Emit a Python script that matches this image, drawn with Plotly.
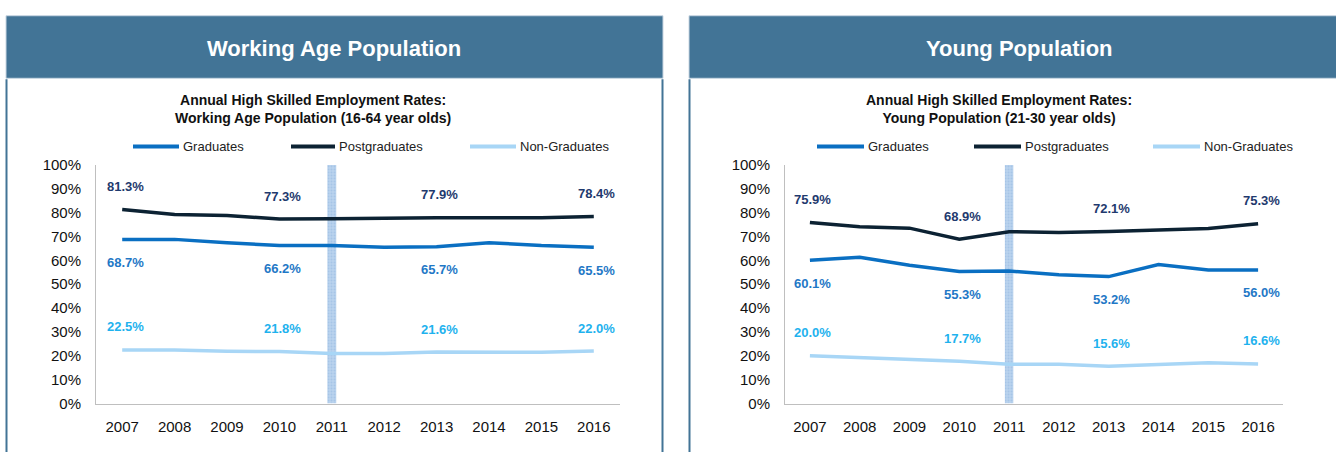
import plotly.graph_objects as go

W, H = 1336, 452

years = ["2007", "2008", "2009", "2010", "2011", "2012", "2013", "2014", "2015", "2016"]
label_years = ["2007", "2010", "2013", "2016"]
highlight_year = "2011"

wa_grad = [68.7, 68.8, 67.4, 66.2, 66.2, 65.5, 65.7, 67.4, 66.2, 65.5]
wa_post = [81.3, 79.2, 78.8, 77.3, 77.4, 77.8, 77.9, 77.9, 77.9, 78.4]
wa_non = [22.5, 22.4, 21.9, 21.8, 21.0, 21.0, 21.6, 21.6, 21.5, 22.0]

yp_grad = [60.1, 61.3, 58.0, 55.3, 55.5, 54.0, 53.2, 58.3, 56.0, 56.0]
yp_post = [75.9, 74.1, 73.5, 68.9, 72.0, 71.7, 72.1, 72.8, 73.4, 75.3]
yp_non = [20.0, 19.2, 18.6, 17.7, 16.5, 16.5, 15.6, 16.5, 17.1, 16.6]

series_names = ["Graduates", "Postgraduates", "Non-Graduates"]
line_colors = ["#0A6FC2", "#0C2233", "#A8D6F6"]
label_colors = ["#1F78C6", "#1F3A6E", "#1FB2EE"]
label_shift = [-23, 23, 23]

header_titles = ["Working Age Population", "Young Population"]
chart_titles = [
    "Annual High Skilled Employment Rates:<br>Working Age Population (16-64 year olds)",
    "Annual High Skilled Employment Rates:<br>Young Population (21-30 year olds)",
]

FONT = "Liberation Sans, Arial, sans-serif"
HEADER = "#427496"


def px(x):
    return x / W


def py(y):
    return 1 - y / H


fig = go.Figure()

panels = [
    dict(data=[wa_grad, wa_post, wa_non], xa="x", ya="y",
         panel=(6, 663), head_cx=334, title_cx=313,
         leg=[(133, 179), (291, 335), (470, 516)]),
    dict(data=[yp_grad, yp_post, yp_non], xa="x2", ya="y2",
         panel=(689, 1345), head_cx=1019, title_cx=999,
         leg=[(817, 864), (974, 1021), (1153, 1200)]),
]

shapes = []
annotations = []

for i, p in enumerate(panels):
    x0, x1 = p["panel"]
    # header band
    shapes.append(dict(type="rect", xref="paper", yref="paper",
                       x0=px(x0), x1=px(x1), y0=py(72), y1=py(7),
                       fillcolor=HEADER, line=dict(color="#C9D6E2", width=1), layer="below"))
    # panel side borders
    for bx in (x0 + 0.5, x1 - 0.5):
        shapes.append(dict(type="line", xref="paper", yref="paper",
                           x0=px(bx), x1=px(bx), y0=py(73), y1=py(470),
                           line=dict(color=HEADER, width=2)))
    annotations.append(dict(x=px(p["head_cx"]), y=py(41), xref="paper", yref="paper",
                            xanchor="center", yanchor="middle",
                            text=header_titles[i], showarrow=False,
                            font=dict(family=FONT, size=22, color="white", weight="bold")))
    annotations.append(dict(x=px(p["title_cx"]), y=py(104), xref="paper", yref="paper",
                            xanchor="center", yanchor="middle",
                            text=chart_titles[i], showarrow=False,
                            font=dict(family=FONT, size=14, color="#111111", weight="bold")))

    # highlight bar at 2011
    fig.add_trace(go.Bar(
        x=[highlight_year], y=[100], width=0.17, xaxis=p["xa"], yaxis=p["ya"],
        marker=dict(color="#B3CFEC", line=dict(width=0),
                    pattern=dict(shape=".", fgcolor="#8FB4DE", bgcolor="#BBD4EE", size=3, solidity=0.4)),
        showlegend=False, hoverinfo="skip"))
    for s, vals in enumerate(p["data"]):
        fig.add_trace(go.Scatter(
            x=years, y=vals, mode="lines", name=series_names[s],
            line=dict(color=line_colors[s], width=3.5),
            xaxis=p["xa"], yaxis=p["ya"], showlegend=False))
        for yr in label_years:
            k = years.index(yr)
            v = vals[k]
            annotations.append(dict(
                x=k, y=v, xref=p["xa"], yref=p["ya"], text=f"{v:.1f}%",
                xanchor="center", yanchor="middle",
                showarrow=False, yshift=label_shift[s], xshift=3,
                font=dict(family=FONT, size=13, color=label_colors[s], weight="bold")))
        # manual legend
        lx0, lx1 = p["leg"][s]
        shapes.append(dict(type="line", xref="paper", yref="paper",
                           x0=px(lx0), x1=px(lx1), y0=py(143), y1=py(143),
                           line=dict(color=line_colors[s], width=4)))
        annotations.append(dict(x=px(lx1 + 2), y=py(143), xref="paper", yref="paper",
                                text=series_names[s], showarrow=False,
                                xanchor="left", yanchor="middle",
                                font=dict(family=FONT, size=13, color="#222222")))

axis_common = dict(showgrid=False, zeroline=False, showline=True, linecolor="#BFBFBF",
                   linewidth=1, tickfont=dict(family=FONT, size=15, color="#111111"),
                   ticks="outside", tickcolor="rgba(0,0,0,0)", fixedrange=True)

xcat = dict(type="category", categoryorder="array", categoryarray=years,
            range=[-0.5, 9.5], ticklen=9)
ynum = dict(range=[0, 100], dtick=10, ticksuffix="%", ticklen=11)

fig.update_layout(
    width=W, height=H, margin=dict(l=0, r=0, t=0, b=0),
    paper_bgcolor="white", plot_bgcolor="white",
    showlegend=False, barmode="overlay",
    xaxis=dict(domain=[px(96), px(620)], anchor="y", **xcat, **axis_common),
    yaxis=dict(domain=[py(410), py(162)], anchor="x", **ynum, **axis_common),
    xaxis2=dict(domain=[px(785), px(1283)], anchor="y2", **xcat, **axis_common),
    yaxis2=dict(domain=[py(410), py(162)], anchor="x2", **ynum, **axis_common),
    shapes=shapes, annotations=annotations,
)

post = (
    "var d=document.getElementById('{plot_id}');"
    "document.documentElement.style.margin='0';"
    "document.documentElement.style.overflow='hidden';"
    "document.body.style.margin='0';document.body.style.padding='0';"
    "document.body.style.overflow='hidden';"
    "d.style.position='fixed';d.style.left='0';d.style.top='0';"
)

fig.write_html("out.html", config={"displayModeBar": False, "responsive": False},
               post_script=post)
